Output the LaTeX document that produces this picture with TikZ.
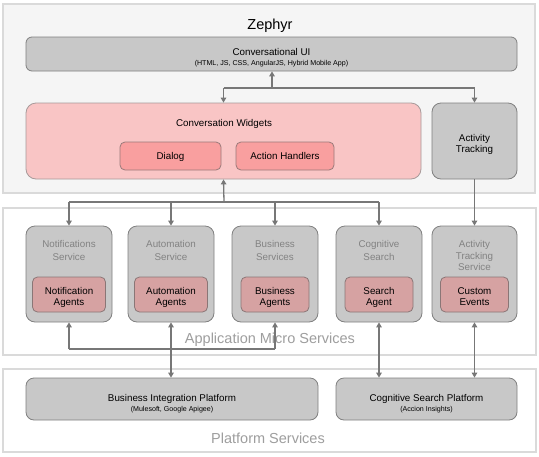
\documentclass[tikz,border=0pt]{standalone}
\usepackage{fontspec}
\setmainfont{Liberation Sans}
\usetikzlibrary{arrows.meta}
\definecolor{panelbg}{HTML}{F5F5F5}
\definecolor{panelline}{HTML}{DADADA}
\definecolor{boxfill}{HTML}{C8C8C8}
\definecolor{boxline}{HTML}{808080}
\definecolor{cwfill}{HTML}{F9C5C5}
\definecolor{cwline}{HTML}{A89A9A}
\definecolor{btnfill}{HTML}{F99F9F}
\definecolor{btnline}{HTML}{9A7A7A}
\definecolor{agfill}{HTML}{D6A2A2}
\definecolor{agline}{HTML}{8A7676}
\definecolor{arrowc}{HTML}{777777}
\definecolor{greytxt}{HTML}{828282}
\definecolor{bigtxt}{HTML}{9E9E9E}
\tikzset{
  panel/.style={draw=panelline, line width=1.2pt, inner sep=0pt},
  gbox/.style={draw=boxline, fill=boxfill, line width=0.8pt, rounded corners=9pt, inner sep=0pt},
  cwbox/.style={draw=cwline, fill=cwfill, line width=0.8pt, rounded corners=10pt, inner sep=0pt},
  btnbox/.style={draw=btnline, fill=btnfill, line width=0.8pt, rounded corners=5pt, inner sep=0pt, minimum height=28pt},
  agbox/.style={draw=agline, fill=agfill, line width=0.8pt, rounded corners=5pt, inner sep=0pt, minimum height=35pt},
  svc/.style={gbox, minimum width=86pt, minimum height=96pt},
  txt/.style={anchor=base, inner sep=0pt, font=\fontsize{9.8}{11}\selectfont},
  gtxt/.style={txt, text=greytxt},
  small/.style={anchor=base, inner sep=0pt, font=\fontsize{7.1}{8}\selectfont},
  big/.style={anchor=base, inner sep=0pt, font=\fontsize{14.5}{16}\selectfont, text=bigtxt},
  title/.style={anchor=base, inner sep=0pt, font=\fontsize{14.5}{16}\selectfont},
  wire/.style={draw=arrowc, line width=1.3pt},
  arr/.style={wire, -{Triangle[length=5pt,width=5.5pt]}},
  arrboth/.style={wire, {Triangle[length=5pt,width=5.5pt]}-{Triangle[length=5pt,width=5.5pt]}},
}
\begin{document}
\begin{tikzpicture}[x=1pt,y=-1pt]
\useasboundingbox (0,0) rectangle (539,456);
% panels
\node[panel, fill=panelbg, minimum width=532pt, minimum height=189pt] (zp) at (269,98.5) {};
\node[panel, fill=white, minimum width=533pt, minimum height=147pt] (mp) at (269.5,281.5) {};
\node[panel, fill=white, minimum width=533pt, minimum height=83pt] (pp) at (269.5,410.5) {};
\node[title] (zt) at (270,29) {Zephyr};
% Zephyr boxes
\node[gbox, rounded corners=6pt, minimum width=491pt, minimum height=34pt] (cui) at (271.5,54) {};
\node[txt] (cuit) at (271.5,55) {Conversational UI};
\node[small] (cuis) at (271.5,65) {(HTML, JS, CSS, AngularJS, Hybrid Mobile App)};
\node[cwbox, minimum width=395pt, minimum height=76pt] (cw) at (223.5,141) {};
\node[txt] (cwt) at (224,126) {Conversation Widgets};
\node[btnbox, minimum width=101pt] (dlg) at (170.5,156) {};
\node[txt] (dlgt) at (170.5,159.5) {Dialog};
\node[btnbox, minimum width=98pt] (act) at (285,156) {};
\node[txt] (actt) at (285,159.5) {Action Handlers};
\node[gbox, minimum width=85pt, minimum height=76pt] (at) at (474.5,141) {};
\node[txt] (ata) at (474.5,141) {Activity};
\node[txt] (atb) at (474.5,152.5) {Tracking};
% micro services
\node[svc] (s1) at (69,274) {};
\node[svc] (s2) at (171,274) {};
\node[svc] (s3) at (275,274) {};
\node[svc] (s4) at (379,274) {};
\node[svc, minimum width=85pt] (s5) at (474.5,274) {};
\node[gtxt] (s1a) at (69,247.5) {Notifications};
\node[gtxt] (s1b) at (69,260) {Service};
\node[gtxt] (s2a) at (171,247.5) {Automation};
\node[gtxt] (s2b) at (171,260) {Service};
\node[gtxt] (s3a) at (275,247.5) {Business};
\node[gtxt] (s3b) at (275,260) {Services};
\node[gtxt] (s4a) at (379,247.5) {Cognitive};
\node[gtxt] (s4b) at (379,260) {Search};
\node[gtxt] (s5a) at (474.5,247.5) {Activity};
\node[gtxt] (s5b) at (474.5,259) {Tracking};
\node[gtxt] (s5c) at (474.5,270.5) {Service};
\node[agbox, minimum width=73pt] (a1) at (69,294.5) {};
\node[agbox, minimum width=73pt] (a2) at (171,294.5) {};
\node[agbox, minimum width=68pt] (a3) at (275,294.5) {};
\node[agbox, minimum width=68pt] (a4) at (379,294.5) {};
\node[agbox, minimum width=68pt] (a5) at (474.5,294.5) {};
\node[txt] (a1a) at (69,294) {Notification};
\node[txt] (a1b) at (69,305.5) {Agents};
\node[txt] (a2a) at (171,294) {Automation};
\node[txt] (a2b) at (171,305.5) {Agents};
\node[txt] (a3a) at (275,294) {Business};
\node[txt] (a3b) at (275,305.5) {Agents};
\node[txt] (a4a) at (379,294) {Search};
\node[txt] (a4b) at (379,305.5) {Agent};
\node[txt] (a5a) at (474.5,294) {Custom};
\node[txt] (a5b) at (474.5,305.5) {Events};
\node[big] (mpt) at (270,343.5) {Application Micro Services};
% platform
\node[gbox, rounded corners=8pt, minimum width=292pt, minimum height=42pt] (bip) at (172,399) {};
\node[txt] (bipt) at (172,401) {Business Integration Platform};
\node[small] (bips) at (172,411) {(Mulesoft, Google Apigee)};
\node[gbox, rounded corners=8pt, minimum width=181pt, minimum height=42pt] (csp) at (426.5,399) {};
\node[txt] (cspt) at (426.5,401) {Cognitive Search Platform};
\node[small] (csps) at (426.5,411) {(Accion Insights)};
\node[big] (ppt) at (268,443) {Platform Services};
% connectors top
\coordinate (j0) at (272,88);
\coordinate (j1) at (cw.north |- j0);
\coordinate (j2) at (at.north |- j0);
\draw[wire] (j1) -- (j2);
\draw[arr] (j0) -- (j0 |- cui.south);
\draw[arr] (j1) -- (cw.north);
\draw[arr] (j2) -- (at.north);
% connectors middle
\coordinate (b0) at (224,202);
\coordinate (b1) at (s1.north |- b0);
\coordinate (b2) at (s2.north |- b0);
\coordinate (b3) at (s3.north |- b0);
\coordinate (b4) at (s4.north |- b0);
\draw[wire] (b1) -- (b4);
\draw[arr] (b0) -- (cw.south);
\draw[arr] (b1) -- (s1.north);
\draw[arr] (b2) -- (s2.north);
\draw[arr] (b3) -- (s3.north);
\draw[arr] (b4) -- (s4.north);
\draw[arr] (at.south) -- (s5.north);
% connectors bottom
\coordinate (c0) at (0,349);
\coordinate (c1) at (s1.south |- c0);
\coordinate (c3) at (s3.south |- c0);
\draw[wire] (c1) -- (c3);
\draw[arr] (c1) -- (s1.south);
\draw[arr] (c3) -- (s3.south);
\draw[arrboth] (s2.south) -- (s2.south |- bip.north);
\draw[arrboth] (s4.south) -- (s4.south |- csp.north);
\draw[arrboth] (s5.south) -- (s5.south |- csp.north);
\end{tikzpicture}
\end{document}
